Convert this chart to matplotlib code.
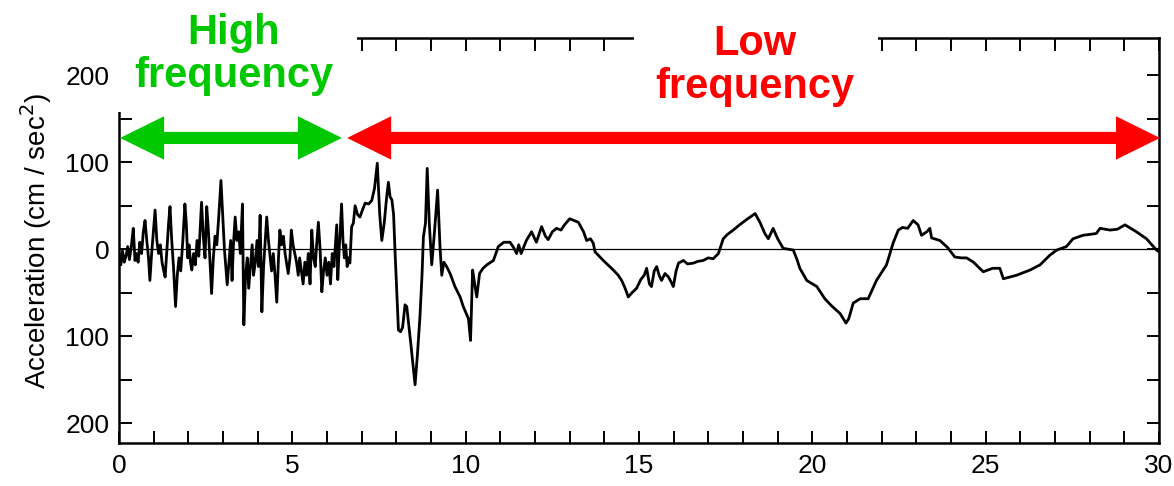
import matplotlib
matplotlib.use("Agg")
import matplotlib.pyplot as plt
from matplotlib.patches import Rectangle, Polygon
from matplotlib.ticker import MultipleLocator, FuncFormatter

plt.rcParams['font.family'] = ['Liberation Sans', 'DejaVu Sans']

# Labels
Y_LABEL = "Acceleration (cm / sec$^2$)"
HIGH_LABEL = "High\nfrequency"
LOW_LABEL = "Low\nfrequency"

GREEN = '#00c800'
RED = '#ff0000'

# Accelerogram trace: time (s) and acceleration (cm/s^2)
time_s = [
    0.00, 0.05, 0.10, 0.15, 0.20, 0.25, 0.30, 0.36, 0.41, 0.46, 0.50, 0.55,
    0.60, 0.65, 0.70, 0.75, 0.80, 0.85, 0.89, 0.94, 1.00, 1.04, 1.09, 1.14,
    1.19, 1.24, 1.29, 1.33, 1.38, 1.43, 1.47, 1.52, 1.57, 1.63, 1.68, 1.73,
    1.78, 1.84, 1.90, 1.94, 1.98, 2.02, 2.06, 2.10, 2.15, 2.20, 2.25, 2.30,
    2.38, 2.43, 2.48, 2.53, 2.58, 2.63, 2.67, 2.72, 2.77, 2.82, 2.88, 2.94,
    2.99, 3.04, 3.08, 3.12, 3.17, 3.22, 3.26, 3.30, 3.35, 3.40, 3.45, 3.50,
    3.56, 3.60, 3.65, 3.70, 3.74, 3.79, 3.84, 3.88, 3.93, 3.98, 4.02, 4.07,
    4.12, 4.17, 4.21, 4.26, 4.31, 4.36, 4.40, 4.45, 4.50, 4.55, 4.60, 4.64,
    4.69, 4.74, 4.79, 4.83, 4.88, 4.93, 4.97, 5.02, 5.07, 5.12, 5.17, 5.21,
    5.26, 5.31, 5.36, 5.41, 5.46, 5.51, 5.56, 5.61, 5.66, 5.70, 5.75, 5.80,
    5.85, 5.90, 5.95, 6.00, 6.05, 6.10, 6.15, 6.20, 6.24, 6.28, 6.31, 6.35,
    6.38, 6.42, 6.46, 6.50, 6.54, 6.58, 6.62, 6.66, 6.71, 6.76, 6.81, 6.88,
    6.95, 7.02, 7.10, 7.20, 7.29, 7.37, 7.45, 7.52, 7.58, 7.65, 7.72, 7.77,
    7.82, 7.87, 7.92, 7.96, 8.06, 8.12, 8.18, 8.25, 8.30, 8.42, 8.54, 8.61,
    8.68, 8.74, 8.78, 8.84, 8.89, 8.95, 9.02, 9.10, 9.19, 9.26, 9.31, 9.37,
    9.45, 9.55, 9.69, 9.84, 9.93, 10.08, 10.14, 10.20, 10.26, 10.32, 10.40,
    10.50, 10.61, 10.80, 10.94, 11.10, 11.28, 11.38, 11.47, 11.53, 11.60,
    11.75, 11.90, 12.04, 12.19, 12.30, 12.38, 12.50, 12.62, 12.75, 12.85,
    13.00, 13.25, 13.40, 13.49, 13.60, 13.68, 13.73, 13.85, 13.97, 14.10,
    14.26, 14.40, 14.50, 14.60, 14.69, 14.80, 14.93, 15.05, 15.15, 15.22,
    15.30, 15.36, 15.44, 15.51, 15.58, 15.65, 15.75, 15.85, 15.93, 15.99,
    16.07, 16.14, 16.28, 16.40, 16.57, 16.70, 16.85, 17.00, 17.14, 17.29,
    17.43, 17.55, 17.72, 17.90, 18.10, 18.35, 18.50, 18.63, 18.73, 18.80,
    18.87, 19.00, 19.16, 19.30, 19.45, 19.55, 19.64, 19.84, 20.13, 20.36,
    20.55, 20.80, 20.97, 21.05, 21.18, 21.38, 21.61, 21.85, 22.14, 22.33,
    22.48, 22.60, 22.75, 22.91, 23.05, 23.15, 23.30, 23.39, 23.44, 23.68,
    23.90, 24.11, 24.30, 24.45, 24.65, 24.93, 25.20, 25.41, 25.51, 25.89,
    26.28, 26.57, 26.85, 27.05, 27.33, 27.52, 27.81, 28.19, 28.30, 28.59,
    28.80, 29.02, 29.35, 29.64, 29.93, 30.00,
]
accel = [
    -5, -18, -2, -15, -8, 3, -12, 5, 24, -13, -5, -15,
    8, -5, 20, 33, 10, -10, -36, -5, 25, 45, 10, -5,
    5, -15, -25, -32, 0, 30, 49, 10, -20, -66, -30, -10,
    -25, 10, 52, 30, -10, 5, -15, -24, -5, -18, 10, -8,
    54, 15, -10, 49, 20, -20, -51, -10, 15, 5, 40, 79,
    40, 0, -20, -41, -15, 10, -36, 5, 37, 10, 20, -5,
    52, -87, -30, -10, -45, -20, 5, -30, -15, 10, -20, 39,
    -72, -20, 5, 37, 10, -10, -25, -5, -30, -61, -10, 22,
    5, 15, -5, -15, -28, -10, 22, 5, -5, -15, -30, -10,
    -25, -40, -15, -30, -5, -40, 22, -10, -20, 5, 31, 0,
    -49, -25, -10, -30, -15, -40, -5, -20, 5, 28, -35, 0,
    20, 52, 10, -10, 5, -20, -10, -16, 26, 30, 50, 40,
    37, 45, 53, 52, 56, 70, 99, 40, 10, 30, 60, 77,
    60, 57, 40, -1, -93, -95, -90, -64, -66, -110, -156, -120,
    -78, -30, 14, 30, 93, 30, -18, 20, 68, 2, -30, -15,
    -20, -28, -43, -55, -66, -80, -105, -24, -40, -55, -28,
    -22, -18, -13, 3, 8, 8, 2, -5, 5, -5,
    10, 20, 8, 26, 15, 11, 20, 24, 22, 28,
    35, 31, 20, 10, 12, 7, -3, -8, -13, -18,
    -24, -30, -36, -45, -55, -50, -45, -35, -30, -22,
    -40, -43, -25, -20, -30, -36, -28, -32, -38, -43,
    -25, -16, -13, -17, -16, -14, -13, -10, -11, -5,
    12, 17, 22, 28, 34, 41, 30, 18, 12, 18,
    24, 12, 1, 0, -1, -11, -22, -36, -43, -57,
    -65, -74, -85, -80, -62, -57, -57, -36, -18, 7,
    22, 25, 24, 33, 28, 16, 20, 24, 13, 10,
    2, -9, -10, -10, -15, -26, -22, -22, -34, -30,
    -24, -18, -7, -1, 3, 12, 16, 18, 24, 22,
    23, 28, 20, 12, -1, -3,
]

# Spans marked by the double arrows (s)
high_span = [0.03, 6.43]
low_span = [6.58, 30.03]
ARROW_Y = 128


def double_arrow(ax, x0, x1, y, color, shaft=7, head=25, head_len=1.27):
    """Two-headed arrow as one filled outline (data units)"""
    pts = [
        (x0, y),
        (x0 + head_len, y + head), (x0 + head_len, y + shaft),
        (x1 - head_len, y + shaft), (x1 - head_len, y + head),
        (x1, y),
        (x1 - head_len, y - head), (x1 - head_len, y - shaft),
        (x0 + head_len, y - shaft), (x0 + head_len, y - head),
    ]
    ax.add_patch(Polygon(pts, closed=True, facecolor=color,
                         edgecolor='none', zorder=4, clip_on=False))


fig = plt.figure(figsize=(11.74, 4.86), dpi=100)
ax = fig.add_axes([0.1014, 0.0885, 0.8858, 0.8333])

ax.axhline(0, color='black', linewidth=0.9, zorder=1)
ax.plot(time_s, accel, color='black', linewidth=2.0, zorder=2)

ax.set_xlim(0, 30)
ax.set_ylim(-223, 243)

ax.xaxis.set_major_locator(MultipleLocator(5))
ax.xaxis.set_minor_locator(MultipleLocator(1))
ax.yaxis.set_major_locator(MultipleLocator(100))
ax.yaxis.set_minor_locator(MultipleLocator(50))
ax.yaxis.set_major_formatter(FuncFormatter(lambda v, p: f"{abs(v):.0f}"))

ax.tick_params(which='both', direction='in', top=True, right=True,
               length=9, width=1.4, labelsize=19)
ax.tick_params(axis='x', pad=8)
ax.tick_params(axis='y', pad=7)
for spine in ax.spines.values():
    spine.set_linewidth(1.8)

ax.set_ylabel(Y_LABEL, fontsize=20, labelpad=8)

# White panels behind the headings
for x0, x1 in ((115, 357), (634, 878)):
    ax.add_patch(Rectangle((x0 / 1174, 1 - 112 / 486), (x1 - x0) / 1174,
                           112 / 486, transform=fig.transFigure,
                           facecolor='white', edgecolor='none',
                           zorder=3, clip_on=False))

double_arrow(ax, high_span[0], high_span[1], ARROW_Y, GREEN)
double_arrow(ax, low_span[0], low_span[1], ARROW_Y, RED)

ax.text(3.3, 224, HIGH_LABEL, color=GREEN, fontsize=30, fontweight='bold',
        ha='center', va='center', linespacing=1.1, zorder=5, clip_on=False)
ax.text(18.35, 211, LOW_LABEL, color=RED, fontsize=30, fontweight='bold',
        ha='center', va='center', linespacing=1.1, zorder=5, clip_on=False)

fig.savefig('out.png', dpi=100)
